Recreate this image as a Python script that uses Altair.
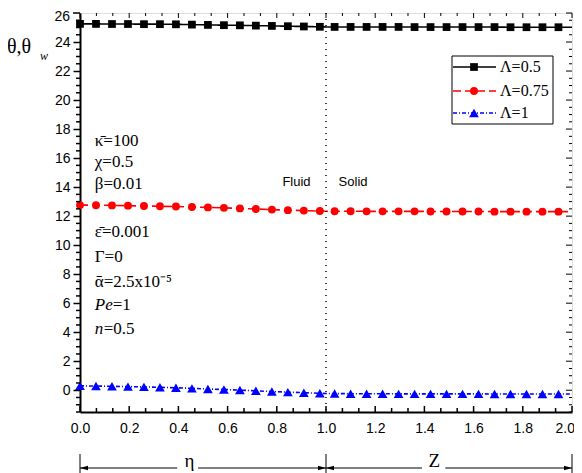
import altair as alt
import pandas as pd

# ---------------- data ----------------
eta = [0.0, 0.065, 0.13, 0.195, 0.26, 0.325, 0.39, 0.455, 0.52, 0.585, 0.65, 0.715, 0.78, 0.845, 0.91, 0.975]
z = [1.035, 1.1, 1.165, 1.23, 1.295, 1.36, 1.425, 1.49, 1.555, 1.62, 1.685, 1.75, 1.815, 1.88, 1.945]
line_ends_x = [1.0, 2.0]

black_fluid = [25.25, 25.25, 25.24, 25.24, 25.23, 25.23, 25.22, 25.20, 25.18, 25.16, 25.15, 25.13, 25.11, 25.09, 25.07, 25.05]
black_solid = [25.04, 25.04, 25.04, 25.04, 25.04, 25.03, 25.03, 25.03, 25.03, 25.03, 25.03, 25.02, 25.02, 25.02, 25.02]
black_ends = [25.04, 25.02]

red_fluid = [12.76, 12.75, 12.74, 12.72, 12.70, 12.68, 12.66, 12.63, 12.60, 12.57, 12.53, 12.49, 12.45, 12.41, 12.38, 12.35]
red_solid = [12.34, 12.34, 12.33, 12.33, 12.33, 12.33, 12.32, 12.32, 12.32, 12.32, 12.31, 12.31, 12.31, 12.31, 12.31]
red_ends = [12.34, 12.31]

blue_fluid = [0.30, 0.29, 0.27, 0.25, 0.23, 0.20, 0.17, 0.13, 0.09, 0.05, 0.01, -0.04, -0.09, -0.13, -0.17, -0.21]
blue_solid = [-0.23, -0.24, -0.24, -0.24, -0.25, -0.25, -0.25, -0.25, -0.25, -0.25, -0.26, -0.26, -0.26, -0.26, -0.26]
blue_ends = [-0.22, -0.26]

series_labels = ["\u039b=0.5", "\u039b=0.75", "\u039b=1"]

x_major = [0.0, 0.2, 0.4, 0.6, 0.8, 1.0, 1.2, 1.4, 1.6, 1.8, 2.0]
x_axis_labels = [0.0, 0.2, 0.4, 0.6, 0.8, 1.0, 1.2, 1.4, 1.6, 1.8]
x_last_label = ["2.0"]
x_minor = [0.0667, 0.1333, 0.2667, 0.3333, 0.4667, 0.5333, 0.6667, 0.7333, 0.8667, 0.9333,
           1.0667, 1.1333, 1.2667, 1.3333, 1.4667, 1.5333, 1.6667, 1.7333, 1.8667, 1.9333]
y_major = [0, 2, 4, 6, 8, 10, 12, 14, 16, 18, 20, 22, 24, 26]
y_axis_labels = [0, 2, 4, 6, 8, 10, 12, 14, 16, 18, 20, 22, 24]
y_top_label = ["26"]
y_minor = [-1.5, -1.0, -0.5, 0.5, 1.0, 1.5, 2.5, 3.0, 3.5, 4.5, 5.0, 5.5, 6.5, 7.0, 7.5, 8.5, 9.0, 9.5,
           10.5, 11.0, 11.5, 12.5, 13.0, 13.5, 14.5, 15.0, 15.5, 16.5, 17.0, 17.5, 18.5, 19.0, 19.5,
           20.5, 21.0, 21.5, 22.5, 23.0, 23.5, 24.5, 25.0, 25.5]

# annotation text (data coordinates)
ann_text = ["\u03ba\u0304=100", "\u03c7=0.5", "\u03b2=0.01", "\u03b5\u0304=0.001", "\u0393=0",
            "\u03b1\u0304=2.5x10\u207b\u2075"]
ann_y = [17.2, 15.7, 14.2, 10.9, 9.2, 7.45]
ann_x = 0.06

W, H = 492, 399
XS = alt.Scale(domain=[0, 2], nice=False, zero=False)
YS = alt.Scale(domain=[-1.5, 26], nice=False, zero=False)
SERIF = "Liberation Serif"
SANS = "Liberation Sans"
AFS = 17

one = pd.DataFrame({"d": [0]})

X_AX = alt.Axis(values=x_axis_labels, format=".1f", ticks=False, grid=False,
                labelFont=SANS, labelFontSize=14, labelColor="black",
                labelPadding=9, domainColor="black", domainWidth=2, title=None,
                labelFlush=False, labelOverlap=False)
Y_AX = alt.Axis(values=y_axis_labels, grid=False, tickSize=7, tickWidth=1.5,
                tickColor="black", labelFont=SANS, labelFontSize=14,
                labelColor="black", labelPadding=3, domainColor="black",
                domainWidth=2, title=None, labelFlush=False, labelOverlap=False)


def X(field="x"):
    return alt.X(f"{field}:Q", scale=XS, axis=X_AX)


def Y(field="y"):
    return alt.Y(f"{field}:Q", scale=YS, axis=Y_AX)


def series_df(fluid, solid, ends):
    xs = eta + [line_ends_x[0]] + z + [line_ends_x[1]]
    ys = fluid + [ends[0]] + solid + [ends[1]]
    line = pd.DataFrame({"x": xs, "y": ys}).sort_values("x")
    pts = pd.DataFrame({"x": eta + z, "y": fluid + solid})
    return line, pts


layers = []

styles = [
    (black_fluid, black_solid, black_ends, "black", [1, 0], "square", 60),
    (red_fluid, red_solid, red_ends, "#ff0000", [8, 4], "circle", 62),
    (blue_fluid, blue_solid, blue_ends, "#0000ff", [4, 2, 1, 2], "triangle-up", 95),
]

for f, s, e, col, dash, shape, size in styles:
    ldf, pdf = series_df(f, s, e)
    layers.append(alt.Chart(ldf).mark_line(color=col, strokeWidth=1.6, strokeDash=dash).encode(
        x=X(), y=Y(), order="x:Q"))
    layers.append(alt.Chart(pdf).mark_point(shape=shape, filled=True, color=col, size=size, opacity=1).encode(
        x=X(), y=Y()))

# dotted interface line at x = 1
layers.append(alt.Chart(pd.DataFrame({"x": [1.0]})).mark_rule(color="black", strokeWidth=1.5,
                                                              strokeDash=[1, 5]).encode(
    x=X(), y=alt.value(0), y2=alt.value(H)))

# inward ticks: bottom and top
xt_major = pd.DataFrame({"x": x_major})
xt_minor = pd.DataFrame({"x": x_minor})
for df, ln in ((xt_major, 6), (xt_minor, 4)):
    layers.append(alt.Chart(df).mark_rule(color="black", strokeWidth=1.5).encode(
        x=X(), y=alt.value(H), y2=alt.value(H - ln)))
    layers.append(alt.Chart(df).mark_rule(color="black", strokeWidth=1).encode(
        x=X(), y=alt.value(0), y2=alt.value(ln - 1)))

# last x label, kept inside the page
layers.append(alt.Chart(pd.DataFrame({"x": [2.0], "t": x_last_label})).mark_text(
    align="right", baseline="top", font=SANS, fontSize=14, color="black", dx=3, dy=10).encode(
    x=X(), y=alt.value(H), text="t:N"))

# y ticks: left major tick at top, left minor (outward), right inward
yt_major = pd.DataFrame({"y": y_major})
yt_minor = pd.DataFrame({"y": y_minor})
layers.append(alt.Chart(pd.DataFrame({"y": [26]})).mark_rule(color="black", strokeWidth=1.5).encode(
    y=Y(), x=alt.value(-7), x2=alt.value(0)))
layers.append(alt.Chart(pd.DataFrame({"t": y_top_label})).mark_text(
    align="right", baseline="top", font=SANS, fontSize=14, color="black").encode(
    x=alt.value(-10), y=alt.value(-3), text="t:N"))
layers.append(alt.Chart(yt_minor).mark_rule(color="black", strokeWidth=1.5).encode(
    y=Y(), x=alt.value(-4), x2=alt.value(0)))
layers.append(alt.Chart(yt_major).mark_rule(color="black", strokeWidth=1).encode(
    y=Y(), x=alt.value(W - 6), x2=alt.value(W)))
layers.append(alt.Chart(yt_minor).mark_rule(color="black", strokeWidth=1).encode(
    y=Y(), x=alt.value(W - 3), x2=alt.value(W)))

# annotations
ann_df = pd.DataFrame({"x": [ann_x] * len(ann_text), "y": ann_y, "t": ann_text})
layers.append(alt.Chart(ann_df).mark_text(align="left", baseline="middle", font=SERIF, fontSize=AFS,
                                          color="black").encode(x=X(), y=Y(), text="t:N"))
ital_df = pd.DataFrame({"x": [ann_x, ann_x], "y": [5.86, 4.2], "t": ["Pe", "n"]})
layers.append(alt.Chart(ital_df).mark_text(align="left", baseline="middle", font=SERIF, fontSize=AFS,
                                           fontStyle="italic", color="black").encode(
    x=X(), y=Y(), text="t:N"))
layers.append(alt.Chart(pd.DataFrame({"x": [ann_x], "y": [5.86], "t": ["=1"]})).mark_text(
    align="left", baseline="middle", font=SERIF, fontSize=AFS, color="black", dx=18).encode(
    x=X(), y=Y(), text="t:N"))
layers.append(alt.Chart(pd.DataFrame({"x": [ann_x], "y": [4.2], "t": ["=0.5"]})).mark_text(
    align="left", baseline="middle", font=SERIF, fontSize=AFS, color="black", dx=9).encode(
    x=X(), y=Y(), text="t:N"))

# Fluid / Solid labels
fs_df = pd.DataFrame({"x": [0.88, 1.11], "y": [14.37, 14.37], "t": ["Fluid", "Solid"]})
layers.append(alt.Chart(fs_df).mark_text(align="center", baseline="middle", font=SANS, fontSize=13,
                                         color="black").encode(x=X(), y=Y(), text="t:N"))

# y-axis title
layers.append(alt.Chart(one).mark_text(align="left", baseline="middle", font=SERIF, fontSize=20,
                                       color="black").encode(
    x=alt.value(-73), y=alt.value(34), text=alt.value("\u03b8,\u03b8")))
layers.append(alt.Chart(one).mark_text(align="left", baseline="middle", font=SERIF, fontSize=12,
                                       fontStyle="italic", color="black").encode(
    x=alt.value(-40), y=alt.value(43), text=alt.value("w")))

# legend box
layers.append(alt.Chart(one).mark_rect(fill="white", stroke="black", strokeWidth=1).encode(
    x=alt.value(372), x2=alt.value(473), y=alt.value(43), y2=alt.value(111)))
leg_rows = [54, 78, 100]
for (f, s, e, col, dash, shape, size), ry, lab in zip(styles, leg_rows, series_labels):
    layers.append(alt.Chart(one).mark_rule(color=col, strokeWidth=1.5, strokeDash=dash).encode(
        x=alt.value(373), x2=alt.value(416), y=alt.value(ry)))
    layers.append(alt.Chart(one).mark_point(shape=shape, filled=True, color=col, size=size, opacity=1).encode(
        x=alt.value(394), y=alt.value(ry)))
    layers.append(alt.Chart(one).mark_text(align="left", baseline="middle", font=SERIF, fontSize=16,
                                           color="black").encode(
        x=alt.value(420), y=alt.value(ry), text=alt.value(lab)))

# bottom brackets eta / Z
BY = 455
seg_df = pd.DataFrame({"x": [0.0, 0.48, 1.0, 1.485], "x2": [0.395, 1.0, 1.39, 2.0]})
layers.append(alt.Chart(seg_df).mark_rule(color="black", strokeWidth=1).encode(
    x=X(), x2="x2:Q", y=alt.value(BY)))
bar_df = pd.DataFrame({"x": [0.0, 1.0, 2.0]})
layers.append(alt.Chart(bar_df).mark_rule(color="black", strokeWidth=1).encode(
    x=X(), y=alt.value(BY - 14), y2=alt.value(BY + 10)))
left_arrow = pd.DataFrame({"x": [0.0, 1.0]})
right_arrow = pd.DataFrame({"x": [1.0, 2.0]})
layers.append(alt.Chart(left_arrow).mark_point(shape="M0,0L2,-0.55L2,0.55Z", filled=True, color="black",
                                               size=64, opacity=1).encode(x=X(), y=alt.value(BY)))
layers.append(alt.Chart(right_arrow).mark_point(shape="M0,0L-2,-0.55L-2,0.55Z", filled=True, color="black",
                                                size=64, opacity=1).encode(x=X(), y=alt.value(BY)))
lab_df = pd.DataFrame({"x": [0.445, 1.44], "t": ["\u03b7", "Z"]})
layers.append(alt.Chart(lab_df).mark_text(align="center", baseline="alphabetic", font=SERIF, fontSize=19,
                                          color="black").encode(x=X(), y=alt.value(BY - 1), text="t:N"))

chart = alt.layer(*layers).properties(
    width=W, height=H,
    autosize=alt.AutoSizeParams(type="none"),
    padding={"left": 72, "top": 5, "right": 2, "bottom": 66},
).configure_view(stroke="black", strokeWidth=1.5).configure(background="white")

chart.save("out.html", embed_options={"renderer": "svg", "actions": False})
